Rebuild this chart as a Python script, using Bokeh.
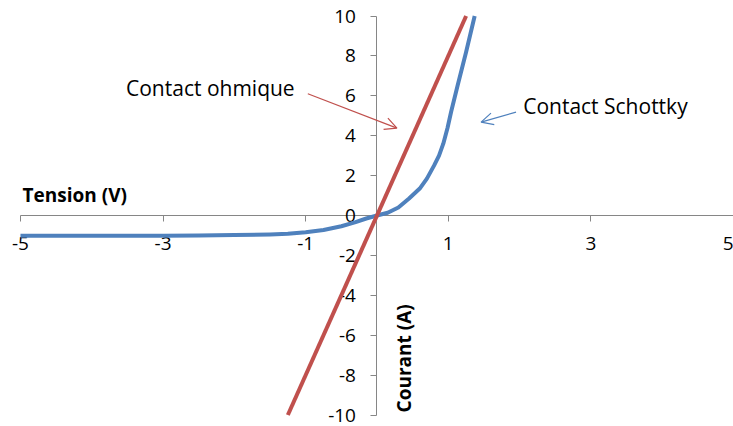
import math
from bokeh.plotting import figure
from bokeh.models import Range1d, FixedTicker, Label, Arrow, OpenHead, LinearAxis, Grid
from bokeh.embed import file_html
from bokeh.resources import INLINE

# ---- data ----
v_ohmic = [-1.25, 1.25]
i_ohmic = [-10.0, 10.0]

v_schottky = [-5, -4, -3, -2.5, -2, -1.5, -1.25, -1, -0.75, -0.5, -0.3, -0.15, 0,
              0.15, 0.3, 0.45, 0.6, 0.7, 0.8, 0.87, 0.93, 0.99, 1.04, 1.13, 1.25, 1.37]
i_schottky = [-1.02, -1.02, -1.01, -1.0, -0.98, -0.95, -0.92, -0.84, -0.73, -0.54, -0.33, -0.15, 0,
              0.14, 0.4, 0.85, 1.35, 1.85, 2.5, 3.0, 3.6, 4.4, 5.2, 6.5, 8.2, 10.0]

x_ticks = [-5, -3, -1, 1, 3, 5]
y_ticks = [-10, -8, -6, -4, -2, 0, 2, 4, 6, 8, 10]

x_title = "Tension (V)"
y_title = "Courant (A)"
label_ohmic = "Contact ohmique"
label_schottky = "Contact Schottky"

RED = "#C0504D"
BLUE = "#4F81BD"
AXIS = "#868686"
FONT = "Open Sans"

p = figure(width=733, height=426, output_backend="svg", toolbar_location=None,
           x_range=Range1d(-5.28, 5.0), y_range=Range1d(-10.576, 10.777),
           min_border=0, x_axis_location=None, y_axis_location=None,
           background_fill_color="white", border_fill_color="white")
p.outline_line_color = None
for g in p.select(type=Grid):
    g.visible = False

xaxis = LinearAxis(fixed_location=0, bounds=(-5, 5), ticker=FixedTicker(ticks=x_ticks))
yaxis = LinearAxis(fixed_location=0, bounds=(-10, 10), ticker=FixedTicker(ticks=y_ticks))
for ax, ticks in ((xaxis, x_ticks), (yaxis, y_ticks)):
    ax.axis_line_color = AXIS
    ax.axis_line_width = 1
    ax.major_tick_line_color = AXIS
    ax.major_tick_in = 0
    ax.major_tick_out = 6
    ax.minor_tick_line_color = None
    ax.major_label_text_font = FONT
    ax.major_label_text_font_size = "19px"
    ax.major_label_text_color = "#000000"
    ax.major_label_overrides = {t: str(t) for t in ticks}
    ax.level = "underlay"
xaxis.major_label_standoff = 15
yaxis.major_label_standoff = 15
p.add_layout(xaxis, "below")
p.add_layout(yaxis, "left")

p.line(v_schottky, i_schottky, line_color=BLUE, line_width=4, line_join="round")
p.line(v_ohmic, i_ohmic, line_color=RED, line_width=4)

p.add_layout(Label(x=-4.97, y=1.05, text=x_title, text_font=FONT, text_font_style="bold",
                   text_font_size="19px", text_baseline="middle", text_align="left",
                   text_color="#000000"))
p.add_layout(Label(x=0.385, y=-9.87, text=y_title, angle=math.pi / 2, text_font=FONT,
                   text_font_style="bold", text_font_size="19px", text_baseline="middle",
                   text_align="left", text_color="#000000"))

p.add_layout(Label(x=-3.52, y=6.37, text=label_ohmic, text_font=FONT, text_font_size="21px",
                   text_baseline="middle", text_align="left", text_color="#000000"))
p.add_layout(Label(x=2.05, y=5.51, text=label_schottky, text_font=FONT, text_font_size="21px",
                   text_baseline="middle", text_align="left", text_color="#000000"))

p.add_layout(Arrow(x_start=-0.97, y_start=6.1, x_end=0.28, y_end=4.38,
                   line_color=RED, line_width=1.2,
                   end=OpenHead(size=12, line_color=RED, line_width=1.2)))
p.add_layout(Arrow(x_start=1.95, y_start=5.18, x_end=1.46, y_end=4.68,
                   line_color=BLUE, line_width=1.2,
                   end=OpenHead(size=12, line_color=BLUE, line_width=1.2)))

open("out.html", "w").write(file_html(p, INLINE))
